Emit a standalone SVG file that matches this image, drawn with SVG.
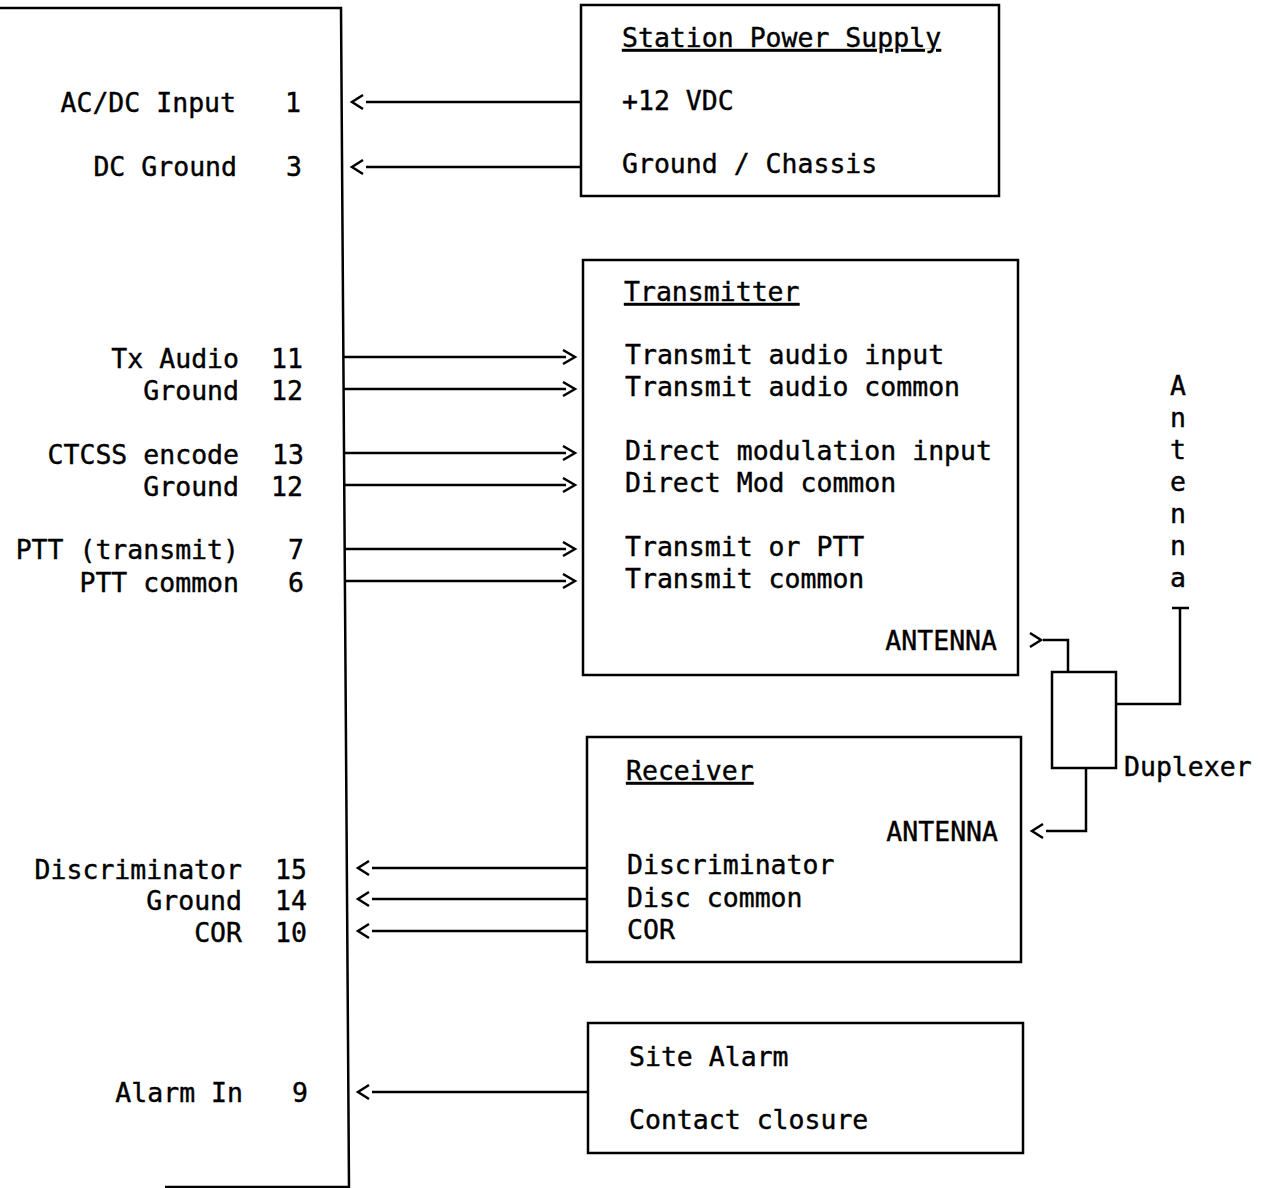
<svg xmlns="http://www.w3.org/2000/svg" width="1266" height="1188" viewBox="0 0 1266 1188">
<style>
text{font-family:"DejaVu Sans Mono","Liberation Mono",monospace;font-size:26.5px;fill:#000;stroke:#000;stroke-width:0.4}
.e{text-anchor:end}
.u{text-decoration:underline}
.box{fill:none;stroke:#000;stroke-width:2.5}
.w{fill:none;stroke:#000;stroke-width:2.5}
.ch{fill:none;stroke:#000;stroke-width:2.5;stroke-linejoin:miter}
</style>
<rect width="1266" height="1188" fill="#fff"/>
<g id="controller">
<polyline class="box" points="0,8 341,8 349,1187 165,1187"/>
<text class="e" x="236" y="112">AC/DC Input</text><text class="e" x="301" y="112">1</text>
<text class="e" x="237" y="176">DC Ground</text><text class="e" x="302" y="176">3</text>
<text class="e" x="239" y="368">Tx Audio</text><text class="e" x="303" y="368">11</text>
<text class="e" x="239" y="400">Ground</text><text class="e" x="303" y="400">12</text>
<text class="e" x="239" y="464">CTCSS encode</text><text class="e" x="304" y="464">13</text>
<text class="e" x="239" y="496">Ground</text><text class="e" x="303" y="496">12</text>
<text class="e" x="239" y="559">PTT (transmit)</text><text class="e" x="304" y="559">7</text>
<text class="e" x="239" y="592">PTT common</text><text class="e" x="304" y="592">6</text>
<text class="e" x="242" y="879">Discriminator</text><text class="e" x="307" y="879">15</text>
<text class="e" x="242" y="910">Ground</text><text class="e" x="307" y="910">14</text>
<text class="e" x="242" y="942">COR</text><text class="e" x="307" y="942">10</text>
<text class="e" x="243" y="1102">Alarm In</text><text class="e" x="308" y="1102">9</text>
</g>
<g id="power">
<rect class="box" x="581" y="5" width="418" height="191"/>
<text class="u" x="622" y="47">Station Power Supply</text>
<text x="622" y="110">+12 VDC</text>
<text x="622" y="173">Ground / Chassis</text>
</g>
<g id="transmitter">
<rect class="box" x="583" y="260" width="435" height="415"/>
<text class="u" x="624" y="301">Transmitter</text>
<text x="625" y="364">Transmit audio input</text>
<text x="625" y="396">Transmit audio common</text>
<text x="625" y="460">Direct modulation input</text>
<text x="625" y="492">Direct Mod common</text>
<text x="625" y="556">Transmit or PTT</text>
<text x="625" y="588">Transmit common</text>
<text class="e" x="997" y="650">ANTENNA</text>
</g>
<g id="receiver">
<rect class="box" x="587" y="737" width="434" height="225"/>
<text class="u" x="626" y="780">Receiver</text>
<text class="e" x="998" y="841">ANTENNA</text>
<text x="627" y="874">Discriminator</text>
<text x="627" y="907">Disc common</text>
<text x="627" y="939">COR</text>
</g>
<g id="site-alarm">
<rect class="box" x="588" y="1023" width="435" height="130"/>
<text x="629" y="1066">Site Alarm</text>
<text x="629" y="1129">Contact closure</text>
</g>
<g id="duplexer">
<rect class="box" x="1052" y="672" width="64" height="96"/>
<text x="1124" y="776">Duplexer</text>
</g>
<g id="antenna">
<text x="1178" y="395" text-anchor="middle">A</text>
<text x="1178" y="427" text-anchor="middle">n</text>
<text x="1178" y="459" text-anchor="middle">t</text>
<text x="1178" y="491" text-anchor="middle">e</text>
<text x="1178" y="523" text-anchor="middle">n</text>
<text x="1178" y="555" text-anchor="middle">n</text>
<text x="1178" y="587" text-anchor="middle">a</text>
<line class="w" x1="1172" y1="608" x2="1189" y2="608"/>
</g>
<g id="connectors">
<line class="w" x1="580" y1="102" x2="366" y2="102"/><polyline class="ch" points="363,95 352,102 363,109"/>
<line class="w" x1="580" y1="167" x2="366" y2="167"/><polyline class="ch" points="363,160 352,167 363,174"/>
<line class="w" x1="343" y1="357" x2="566" y2="357"/><polyline class="ch" points="563,350 575,357 563,364"/>
<line class="w" x1="343" y1="389" x2="566" y2="389"/><polyline class="ch" points="563,382 575,389 563,396"/>
<line class="w" x1="343" y1="453" x2="566" y2="453"/><polyline class="ch" points="563,446 575,453 563,460"/>
<line class="w" x1="343" y1="485" x2="566" y2="485"/><polyline class="ch" points="563,478 575,485 563,492"/>
<line class="w" x1="344" y1="549" x2="566" y2="549"/><polyline class="ch" points="563,542 575,549 563,556"/>
<line class="w" x1="344" y1="581" x2="566" y2="581"/><polyline class="ch" points="563,574 575,581 563,588"/>
<line class="w" x1="586" y1="868" x2="372" y2="868"/><polyline class="ch" points="369,861 358,868 369,875"/>
<line class="w" x1="586" y1="899" x2="372" y2="899"/><polyline class="ch" points="369,892 358,899 369,906"/>
<line class="w" x1="586" y1="931" x2="372" y2="931"/><polyline class="ch" points="369,924 358,931 369,938"/>
<line class="w" x1="587" y1="1092" x2="372" y2="1092"/><polyline class="ch" points="369,1085 358,1092 369,1099"/>
<polyline class="ch" points="1030,633 1041,640 1030,647"/>
<polyline class="w" points="1043,640 1068,640 1068,672"/>
<polyline class="w" points="1086,768 1086,831 1046,831"/>
<polyline class="ch" points="1043,824 1032,831 1043,838"/>
<polyline class="w" points="1116,704 1180,704 1180,608"/>
</g>
</svg>
